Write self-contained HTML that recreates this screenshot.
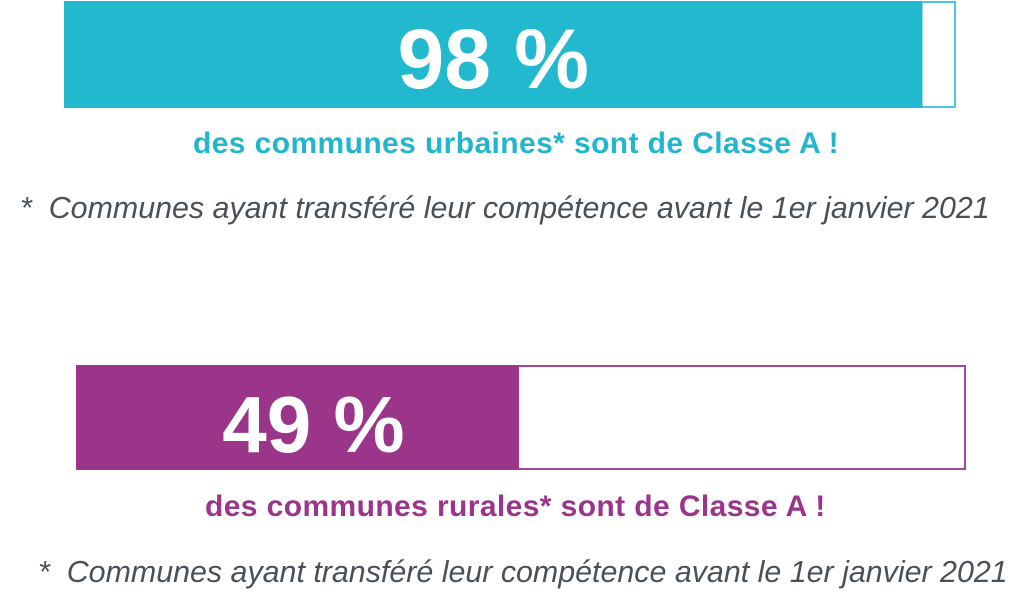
<!DOCTYPE html>
<html><head><meta charset="utf-8"><style>
html,body{margin:0;padding:0;background:#fff;width:1024px;height:595px;overflow:hidden;position:relative;font-family:"Liberation Sans",sans-serif}
.t{position:absolute;white-space:nowrap}
.sub{font-weight:bold;font-size:30px}
.note{font-style:italic;font-size:30.4px;color:#4a5058}
</style></head><body>
<svg id="chart" width="1024" height="595" style="position:absolute;left:0;top:0"></svg>
<div class="t sub" style="left:193px;top:127px;color:#22b6cc;letter-spacing:0.4px">des communes urbaines* sont de Classe A !</div>
<div class="t note" style="left:20px;top:191px">* &nbsp;Communes ayant transféré leur compétence avant le 1er janvier 2021</div>
<div class="t sub" style="left:205px;top:490px;color:#9b3589;letter-spacing:0.4px">des communes rurales* sont de Classe A !</div>
<div class="t note" style="left:38px;top:555px">* &nbsp;Communes ayant transféré leur compétence avant le 1er janvier 2021</div>
<script>
const categories = ["urbaines", "rurales"];
const values = [98, 49];
const labels = ["98 %", "49 %"];
const layout = [
  {x:64, y:1, w:892, h:107, range:876, color:"#22b9cf", stroke:"#4cc6d8", fs:84, ty:88},
  {x:76, y:365, w:890, h:105, range:904, color:"#9b3589", stroke:"#a8479a", fs:80, ty:452}
];
const NS = "http://www.w3.org/2000/svg";
const svg = document.getElementById("chart");
function xScale(v, L){ return L.range * v / 100; }
categories.forEach((c, i) => {
  const L = layout[i];
  const outline = document.createElementNS(NS, "rect");
  
  
  outline.setAttribute("x", L.x + 1); outline.setAttribute("y", L.y + 1);
  outline.setAttribute("width", L.w - 2); outline.setAttribute("height", L.h - 2);
  outline.setAttribute("fill", "#fff"); outline.setAttribute("stroke", L.stroke); outline.setAttribute("stroke-width", "2");
  svg.appendChild(outline);
  const bar = document.createElementNS(NS, "rect");
  
  
  const fw = Math.min(xScale(values[i], L), L.w);
  bar.setAttribute("x", L.x); bar.setAttribute("y", L.y);
  bar.setAttribute("width", fw); bar.setAttribute("height", L.h);
  bar.setAttribute("fill", L.color);
  svg.appendChild(bar);
  const t = document.createElementNS(NS, "text");
  
  
  t.setAttribute("x", L.x + fw / 2 + (i === 0 ? 0 : 16));
  t.setAttribute("y", L.ty);
  t.setAttribute("text-anchor", "middle");
  t.setAttribute("fill", "#fff");
  t.setAttribute("font-family", "Liberation Sans, sans-serif");
  t.setAttribute("font-weight", "bold");
  t.setAttribute("font-size", L.fs);
  t.textContent = labels[i];
  svg.appendChild(t);
});
</script>
</body></html>
